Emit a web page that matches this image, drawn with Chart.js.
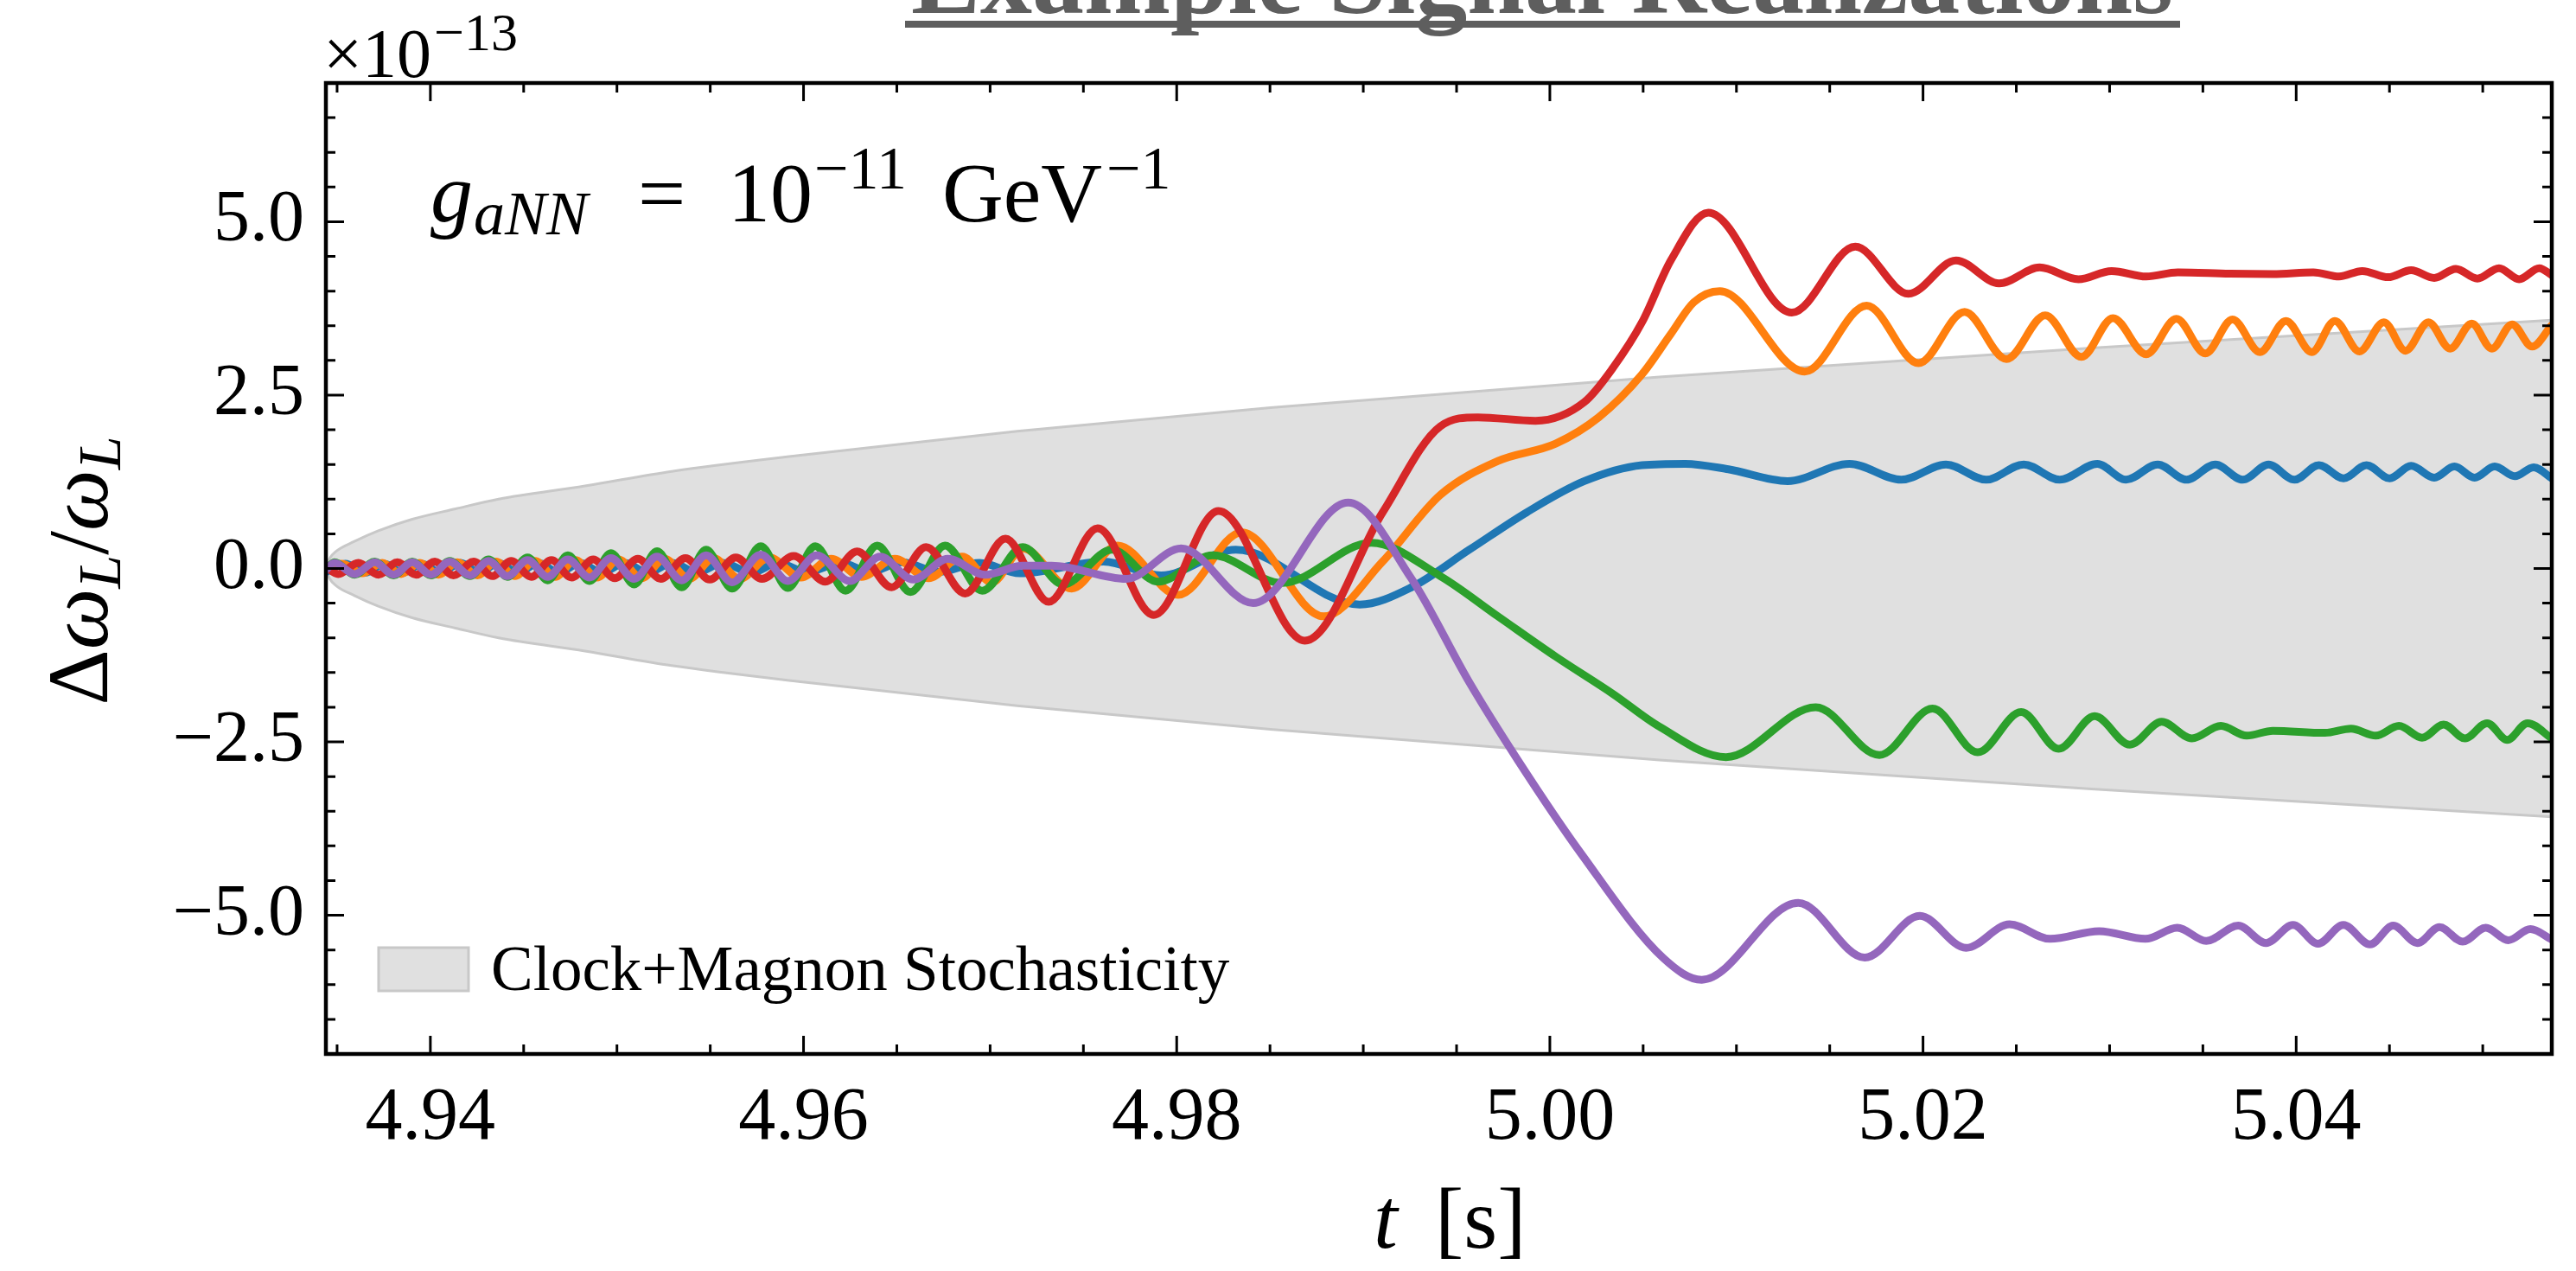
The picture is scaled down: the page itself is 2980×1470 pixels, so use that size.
<!DOCTYPE html>
<html>
<head>
<meta charset="utf-8">
<title>Example Signal Realizations</title>
<script src="https://cdn.jsdelivr.net/npm/chart.js@4.4.1/dist/chart.umd.min.js"></script>
<style>
  html, body { margin: 0; padding: 0; background: #fff; overflow: hidden; }
  canvas { display: block; }
</style>
</head>
<body>
<canvas id="chart" width="2980" height="1470"></canvas>
<script>
// Example signal realizations: five damped Larmor-shift traces over a stochastic band

const xMin = 4.9344, xMax = 5.0537;
const yMin = -7, yMax = 7;

const xTickValues = [4.94, 4.96, 4.98, 5.00, 5.02, 5.04];
const xTickLabels = ['4.94', '4.96', '4.98', '5.00', '5.02', '5.04'];
const yTickValues = [-5, -2.5, 0, 2.5, 5];
const yTickLabels = ['\u22125.0', '\u22122.5', '0.0', '2.5', '5.0'];

// clock + magnon stochasticity band (upper / lower edge)
const bandT = [4.93440, 4.93459, 4.93496, 4.93593, 4.93718, 4.93903, 4.94135, 4.94366, 4.94829,
  4.95293, 4.96006, 4.97145, 4.98502, 5.00587, 5.02903, 5.05370];
const bandUpper = [0, 0.14, 0.25, 0.39, 0.54, 0.71, 0.86, 1.00, 1.19, 1.40, 1.64, 1.98, 2.32, 2.76, 3.18, 3.58];
const bandLower = [0, -0.14, -0.25, -0.39, -0.54, -0.71, -0.86, -1.00, -1.19, -1.40, -1.64, -1.98, -2.32, -2.76, -3.18, -3.58];

// realization 1 (blue)
const blueT = [4.93440, 4.93544, 4.93652, 4.93753, 4.93853, 4.93954, 4.94054, 4.94162, 4.94262, 4.94363,
  4.94471, 4.94579, 4.94687, 4.94803, 4.94918, 4.95042, 4.95165, 4.95297, 4.95428, 4.95567, 4.95721,
  4.95862, 4.96017, 4.96202, 4.96356, 4.96526, 4.96727, 4.96943, 4.97159, 4.97607, 4.97916, 4.98317,
  4.98981, 4.99259, 4.99568, 4.99876, 5.00185, 5.00494, 5.00726, 5.00957, 5.01274, 5.01606, 5.01884,
  5.02123, 5.02339, 5.02540, 5.02733, 5.02934, 5.03088, 5.03258, 5.03412, 5.03567, 5.03713, 5.03852,
  5.03991, 5.04122, 5.04254, 5.04377, 5.04501, 5.04616, 5.04740, 5.04848, 5.04956, 5.05064, 5.05172,
  5.05273, 5.05370];
const blueV = [-0.05, 0.07, -0.06, 0.07, -0.06, 0.07, -0.06, 0.08, -0.06, 0.08,
  -0.06, 0.08, -0.06, 0.08, -0.06, 0.08, -0.06, 0.08, -0.06, 0.08, -0.06,
  0.08, -0.05, 0.08, -0.05, 0.09, -0.05, 0.08, -0.07, 0.10, -0.10, 0.27,
  -0.52, -0.27, 0.27, 0.81, 1.26, 1.49, 1.51, 1.43, 1.26, 1.51, 1.28,
  1.50, 1.28, 1.50, 1.28, 1.51, 1.28, 1.50, 1.28, 1.50, 1.28, 1.50,
  1.28, 1.49, 1.30, 1.49, 1.30, 1.48, 1.31, 1.47, 1.31, 1.47, 1.33,
  1.46, 1.30];

// realization 2 (orange)
const orangeT = [4.93440, 4.93526, 4.93634, 4.93742, 4.93843, 4.93943, 4.94044, 4.94144, 4.94252, 4.94352,
  4.94453, 4.94561, 4.94669, 4.94777, 4.94893, 4.95008, 4.95132, 4.95255, 4.95387, 4.95518, 4.95657,
  4.95816, 4.95986, 4.96148, 4.96310, 4.96490, 4.96670, 4.96850, 4.97010, 4.97175, 4.97437, 4.97684,
  4.98008, 4.98348, 4.98788, 4.99104, 4.99413, 4.99722, 5.00031, 5.00262, 5.00494, 5.00648, 5.00772,
  5.00911, 5.01366, 5.01698, 5.01976, 5.02223, 5.02447, 5.02655, 5.02849, 5.03018, 5.03196, 5.03358,
  5.03513, 5.03659, 5.03806, 5.03945, 5.04084, 5.04207, 5.04339, 5.04470, 5.04586, 5.04709, 5.04825,
  5.04941, 5.05049, 5.05157, 5.05265, 5.05370];
const orangeV = [0.00, 0.07, -0.07, 0.08, -0.08, 0.08, -0.09, 0.09, -0.10, 0.10,
  -0.11, 0.11, -0.12, 0.12, -0.13, 0.13, -0.14, 0.14, -0.15, 0.15, -0.15,
  0.16, -0.13, 0.14, -0.12, 0.14, -0.14, 0.17, -0.20, 0.29, -0.29, 0.33,
  -0.38, 0.52, -0.69, 0.10, 1.06, 1.55, 1.80, 2.18, 2.80, 3.38, 3.84,
  4.00, 2.84, 3.79, 2.96, 3.70, 3.02, 3.65, 3.05, 3.61, 3.09, 3.60,
  3.10, 3.59, 3.12, 3.57, 3.12, 3.57, 3.13, 3.55, 3.14, 3.55, 3.17,
  3.53, 3.17, 3.52, 3.20, 3.51];

// realization 3 (green)
const greenT = [4.93440, 4.93486, 4.93594, 4.93702, 4.93803, 4.93903, 4.94004, 4.94104, 4.94212, 4.94312,
  4.94413, 4.94521, 4.94629, 4.94737, 4.94853, 4.94968, 4.95092, 4.95215, 4.95347, 4.95478, 4.95617,
  4.95771, 4.95916, 4.96063, 4.96225, 4.96395, 4.96573, 4.96758, 4.96958, 4.97175, 4.97391, 4.97653,
  4.97900, 4.98193, 4.98564, 4.99043, 4.99413, 4.99722, 5.00031, 5.00339, 5.00587, 5.00944, 5.01425,
  5.01766, 5.02051, 5.02293, 5.02526, 5.02727, 5.02920, 5.03109, 5.03279, 5.03441, 5.03596, 5.03735,
  5.03875, 5.04154, 5.04294, 5.04427, 5.04551, 5.04675, 5.04790, 5.04905, 5.05023, 5.05131, 5.05240,
  5.05370];
const greenV = [-0.02, 0.09, -0.09, 0.10, -0.10, 0.10, -0.10, 0.11, -0.11, 0.13,
  -0.12, 0.16, -0.17, 0.19, -0.18, 0.22, -0.23, 0.25, -0.27, 0.27, -0.29,
  0.32, -0.28, 0.32, -0.32, 0.33, -0.34, 0.33, -0.32, 0.31, -0.23, 0.27,
  -0.19, 0.19, -0.21, 0.37, -0.11, -0.69, -1.27, -1.81, -2.28, -2.72, -2.00,
  -2.69, -2.02, -2.65, -2.07, -2.60, -2.13, -2.54, -2.21, -2.45, -2.27, -2.41,
  -2.34, -2.37, -2.31, -2.41, -2.27, -2.44, -2.25, -2.45, -2.23, -2.47, -2.23,
  -2.45];

// realization 4 (red)
const redT = [4.93440, 4.93506, 4.93614, 4.93722, 4.93823, 4.93923, 4.94024, 4.94124, 4.94232, 4.94332,
  4.94433, 4.94541, 4.94649, 4.94757, 4.94873, 4.94988, 4.95112, 4.95235, 4.95367, 4.95498, 4.95637,
  4.95777, 4.95947, 4.96117, 4.96287, 4.96472, 4.96657, 4.96866, 4.97082, 4.97314, 4.97576, 4.97877,
  4.98224, 4.98687, 4.99104, 4.99413, 4.99614, 4.99923, 5.00185, 5.00340, 5.00494, 5.00650, 5.00849,
  5.01297, 5.01637, 5.01922, 5.02177, 5.02408, 5.02625, 5.02833, 5.03011, 5.03196, 5.03366, 5.03644,
  5.03875, 5.04092, 5.04230, 5.04354, 5.04493, 5.04616, 5.04740, 5.04856, 5.04971, 5.05087, 5.05195,
  5.05303, 5.05370];
const redV = [0.02, -0.08, 0.08, -0.09, 0.09, -0.09, 0.10, -0.10, 0.10, -0.11,
  0.11, -0.12, 0.12, -0.13, 0.13, -0.14, 0.14, -0.15, 0.15, -0.16, 0.16,
  -0.15, 0.18, -0.19, 0.245, -0.27, 0.31, -0.36, 0.43, -0.48, 0.58, -0.67,
  0.83, -1.04, 0.81, 2.05, 2.18, 2.13, 2.40, 2.90, 3.55, 4.45, 5.13,
  3.69, 4.64, 3.96, 4.44, 4.11, 4.34, 4.17, 4.29, 4.21, 4.27, 4.25,
  4.245, 4.27, 4.21, 4.29, 4.20, 4.30, 4.19, 4.32, 4.18, 4.33, 4.17,
  4.33, 4.23];

// realization 5 (purple)
const purpleT = [4.93440, 4.93486, 4.93594, 4.93702, 4.93803, 4.93903, 4.94004, 4.94104, 4.94212, 4.94312,
  4.94413, 4.94521, 4.94629, 4.94737, 4.94853, 4.94968, 4.95092, 4.95215, 4.95347, 4.95478, 4.95617,
  4.95771, 4.95916, 4.96071, 4.96248, 4.96410, 4.96588, 4.96773, 4.96974, 4.97175, 4.97329, 4.97730,
  4.98024, 4.98410, 4.98919, 4.99259, 4.99568, 4.99830, 5.00170, 5.00609, 5.00814, 5.01331, 5.01688,
  5.01983, 5.02231, 5.02464, 5.02681, 5.02944, 5.03192, 5.03363, 5.03518, 5.03689, 5.03838, 5.03983,
  5.04117, 5.04253, 5.04396, 5.04520, 5.04650, 5.04768, 5.04892, 5.05016, 5.05137, 5.05255, 5.05370];
const purpleV = [-0.02, 0.08, -0.08, 0.09, -0.09, 0.09, -0.09, 0.10, -0.10, 0.11,
  -0.11, 0.12, -0.12, 0.13, -0.13, 0.15, -0.15, 0.17, -0.17, 0.19, -0.20,
  0.20, -0.18, 0.19, -0.18, 0.17, -0.16, 0.14, -0.09, 0.04, 0.04, -0.15,
  0.29, -0.50, 0.95, -0.15, -1.64, -2.77, -4.12, -5.62, -5.93, -4.82, -5.61,
  -5.01, -5.47, -5.13, -5.34, -5.23, -5.34, -5.18, -5.37, -5.15, -5.40, -5.14,
  -5.41, -5.14, -5.42, -5.15, -5.40, -5.17, -5.38, -5.18, -5.36, -5.20, -5.35];

const SERIF = "'Liberation Serif', 'DejaVu Serif', serif";

function points(ts, vs) {
  return ts.map((t, i) => ({ x: t, y: vs[i] }));
}

function traceDataset(label, ts, vs, color, order) {
  return {
    label,
    data: points(ts, vs),
    borderColor: color,
    borderWidth: 9,
    pointRadius: 0,
    fill: false,
    cubicInterpolationMode: 'monotone',
    borderJoinStyle: 'round',
    borderCapStyle: 'round',
    order,
  };
}

function drawRuns(ctx, runs, baseline) {
  for (const r of runs) {
    ctx.font = `${r.italic ? 'italic ' : ''}${r.size}px ${SERIF}`;
    ctx.fillText(r.text, r.x, baseline + (r.dy || 0));
  }
}

const decor = {
  id: 'decor',
  afterDatasetsDraw(chart) {
    const { ctx, chartArea: a, scales: { x, y } } = chart;
    ctx.save();
    ctx.strokeStyle = '#000';
    ctx.lineWidth = 3;
    ctx.beginPath();
    for (let k = 987; k <= 1010; k++) {
      const px = x.getPixelForValue(k * 0.005);
      const len = k % 4 === 0 ? 21 : 11;
      ctx.moveTo(px, a.bottom); ctx.lineTo(px, a.bottom - len);
      ctx.moveTo(px, a.top); ctx.lineTo(px, a.top + len);
    }
    for (let k = -13; k <= 13; k++) {
      const py = y.getPixelForValue(k * 0.5);
      const len = k % 5 === 0 ? 21 : 11;
      ctx.moveTo(a.left, py); ctx.lineTo(a.left + len, py);
      ctx.moveTo(a.right, py); ctx.lineTo(a.right - len, py);
    }
    ctx.stroke();
    ctx.lineWidth = 4.5;
    ctx.strokeRect(a.left, a.top, a.right - a.left, a.bottom - a.top);
    ctx.restore();
  },
  afterDraw(chart) {
    const { ctx } = chart;
    ctx.save();
    ctx.fillStyle = '#000';
    ctx.textAlign = 'left';
    ctx.textBaseline = 'alphabetic';

    // title, mostly cut off by the top edge
    ctx.fillStyle = '#5e5e5e';
    ctx.font = `bold 120px ${SERIF}`;
    ctx.textAlign = 'center';
    ctx.fillText('Example Signal Realizations', 1784, 15);
    ctx.fillRect(1047, 24, 1475, 8);
    ctx.textAlign = 'left';
    ctx.fillStyle = '#000';

    // offset text
    drawRuns(ctx, [
      { text: '\u00d710', size: 80, x: 374 },
      { text: '\u221213', size: 62, x: 502, dy: -31 },
    ], 89);

    // coupling annotation
    drawRuns(ctx, [
      { text: 'g', italic: true, size: 98, x: 498 },
      { text: 'aNN', italic: true, size: 72, x: 548, dy: 15 },
      { text: '=', size: 98, x: 738 },
      { text: '10', size: 98, x: 842 },
      { text: '\u221211', size: 70, x: 942, dy: -38 },
      { text: 'GeV', size: 98, x: 1090 },
      { text: '\u22121', size: 70, x: 1280, dy: -38 },
    ], 256);

    // legend
    ctx.fillStyle = '#e0e0e0';
    ctx.fillRect(438, 1096, 104, 50);
    ctx.strokeStyle = '#c8c8c8';
    ctx.lineWidth = 3;
    ctx.strokeRect(438, 1096, 104, 50);
    ctx.fillStyle = '#000';
    ctx.font = `73px ${SERIF}`;
    ctx.fillText('Clock+Magnon Stochasticity', 568, 1145);

    // x axis title
    drawRuns(ctx, [
      { text: 't', italic: true, size: 100, x: 1589 },
      { text: '[s]', size: 100, x: 1660 },
    ], 1443);

    // y axis title, rotated
    ctx.translate(124, 660);
    ctx.rotate(-Math.PI / 2);
    const runs = [
      { text: '\u0394', size: 100 },
      { text: '\u03c9', italic: true, size: 100 },
      { text: 'L', italic: true, size: 70, dy: 15 },
      { text: '/', size: 100 },
      { text: '\u03c9', italic: true, size: 100 },
      { text: 'L', italic: true, size: 70, dy: 15 },
    ];
    let total = 0;
    for (const r of runs) {
      ctx.font = `${r.italic ? 'italic ' : ''}${r.size}px ${SERIF}`;
      r.w = ctx.measureText(r.text).width;
      total += r.w;
    }
    let cx = -total / 2;
    for (const r of runs) {
      r.x = cx;
      cx += r.w;
    }
    drawRuns(ctx, runs, 0);
    ctx.restore();
  },
};

new Chart(document.getElementById('chart'), {
  type: 'line',
  data: {
    datasets: [
      {
        label: 'Clock+Magnon Stochasticity',
        data: points(bandT, bandUpper),
        borderColor: '#c8c8c8',
        borderWidth: 3,
        backgroundColor: '#e0e0e0',
        pointRadius: 0,
        fill: '+1',
        cubicInterpolationMode: 'monotone',
        order: 11,
      },
      {
        label: 'band lower',
        data: points(bandT, bandLower),
        borderColor: '#c8c8c8',
        borderWidth: 3,
        pointRadius: 0,
        fill: false,
        cubicInterpolationMode: 'monotone',
        order: 10,
      },
      traceDataset('realization 1', blueT, blueV, '#1f77b4', 5),
      traceDataset('realization 2', orangeT, orangeV, '#ff7f0e', 4),
      traceDataset('realization 3', greenT, greenV, '#2ca02c', 3),
      traceDataset('realization 4', redT, redV, '#d62728', 2),
      traceDataset('realization 5', purpleT, purpleV, '#9467bd', 1),
    ],
  },
  options: {
    responsive: false,
    animation: false,
    devicePixelRatio: 1,
    parsing: false,
    layout: { padding: { top: 96, right: 28, left: 0, bottom: 0 } },
    plugins: {
      legend: { display: false },
      tooltip: { enabled: false },
    },
    scales: {
      x: {
        type: 'linear',
        min: xMin,
        max: xMax,
        grid: { display: false, drawTicks: false },
        border: { display: false },
        afterBuildTicks(scale) { scale.ticks = xTickValues.map(v => ({ value: v })); },
        afterFit(scale) { scale.height = 251; },
        ticks: {
          padding: 24,
          color: '#000',
          maxRotation: 0,
          autoSkip: false,
          font: { family: SERIF, size: 86 },
          callback: (v, i) => xTickLabels[i],
        },
      },
      y: {
        type: 'linear',
        min: yMin,
        max: yMax,
        grid: { display: false, drawTicks: false },
        border: { display: false },
        afterBuildTicks(scale) { scale.ticks = yTickValues.map(v => ({ value: v })); },
        afterFit(scale) { scale.width = 377; },
        ticks: {
          padding: 25,
          color: '#000',
          autoSkip: false,
          font: { family: SERIF, size: 84 },
          callback: (v, i) => yTickLabels[i],
        },
      },
    },
  },
  plugins: [decor],
});
</script>
</body>
</html>
